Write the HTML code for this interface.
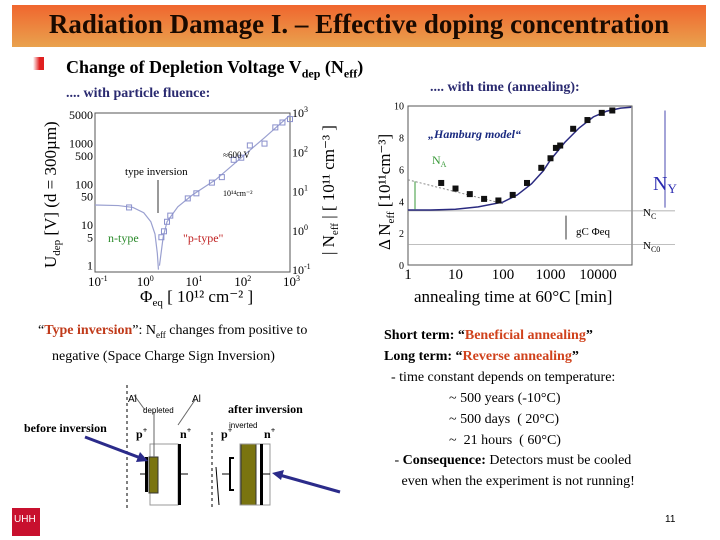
<!DOCTYPE html>
<html><head><meta charset="utf-8"><style>
body{margin:0;width:720px;height:540px;background:#fff;position:relative;overflow:hidden;font-family:"Liberation Serif",serif}
.t{position:absolute;white-space:nowrap}
</style></head><body>
<div style="position:absolute;left:12px;top:5px;width:694px;height:42px;background:linear-gradient(#f0662e,#e9a24e)"></div>
<div class="t" style="left:12px;width:694px;top:9px;text-align:center;font-size:27px;font-weight:bold;color:#1a0a00">Radiation Damage I. – Effective doping concentration</div>
<div style="position:absolute;left:33px;top:57px;width:11px;height:13px;background:linear-gradient(90deg,#fff,#e02020 60%)"></div>
<div class="t" style="left:66px;top:57px;font-size:18px;font-weight:bold">Change of Depletion Voltage V<sub style="font-size:12px">dep</sub> (N<sub style="font-size:12px">eff</sub>)</div>
<div class="t" style="left:66px;top:86px;font-size:14px;font-weight:bold;color:#2a2a70">.... with particle fluence:</div>
<div class="t" style="left:430px;top:80px;font-size:14px;font-weight:bold;color:#2a2a70">.... with time (annealing):</div>

<svg id="sv" width="720" height="540" style="position:absolute;left:0;top:0" font-family="Liberation Serif, serif">
<g id="left"></g>
<g id="right"></g>
<g stroke="#000">
<line x1="127" y1="385" x2="127" y2="508" stroke-dasharray="3,3"/>
<line x1="212" y1="432" x2="212" y2="508" stroke-dasharray="3,3"/>
<rect x="150" y="444" width="28" height="61" fill="none" stroke="#999"/>
<rect x="149" y="457" width="9" height="36" fill="#7a7410" stroke="#333"/>
<rect x="145" y="457" width="3" height="35" fill="#000" stroke="none"/>
<rect x="178" y="444" width="3" height="61" fill="#000" stroke="none"/>
<line x1="140" y1="474" x2="146" y2="474"/><line x1="181" y1="474" x2="188" y2="474"/>
<line x1="145" y1="410" x2="134" y2="395" stroke="#666"/><line x1="178" y1="425" x2="195" y2="400" stroke="#666"/><line x1="154" y1="412" x2="154" y2="457" stroke="#666"/>
<rect x="241" y="444" width="15" height="61" fill="#7a7410" stroke="#333"/>
<rect x="240" y="444" width="30" height="61" fill="none" stroke="#999"/>
<rect x="260" y="444" width="3" height="61" fill="#000" stroke="none"/>
<path d="M234 458 H230 V490 H234" fill="none" stroke-width="2"/>
<line x1="222" y1="474" x2="230" y2="474"/><line x1="263" y1="474" x2="270" y2="474"/>
<line x1="216" y1="467" x2="219" y2="505"/>
<line x1="85" y1="437" x2="146" y2="460" stroke="#2b2b8a" stroke-width="3"/>
<polygon points="148,461 136,462 140,452" fill="#2b2b8a" stroke="none"/>
<line x1="340" y1="492" x2="276" y2="474" stroke="#2b2b8a" stroke-width="3"/>
<polygon points="272,473 284,470 281,480" fill="#2b2b8a" stroke="none"/>
</g>
<g font-size="12">
<text x="24" y="432" font-weight="bold">before inversion</text>
<text x="228" y="413" font-weight="bold">after inversion</text>
<text x="128" y="402" font-family="Liberation Sans, sans-serif" font-size="10">Al</text>
<text x="192" y="402" font-family="Liberation Sans, sans-serif" font-size="10">Al</text>
<text x="143" y="413" font-family="Liberation Sans, sans-serif" font-size="8">depleted</text>
<text x="229" y="428" font-family="Liberation Sans, sans-serif" font-size="8">inverted</text>
<text x="136" y="438" font-weight="bold">p<tspan font-size="8" dy="-5">+</tspan></text>
<text x="180" y="438" font-weight="bold">n<tspan font-size="8" dy="-5">+</tspan></text>
<text x="221" y="438" font-weight="bold">p<tspan font-size="8" dy="-5">+</tspan></text>
<text x="264" y="438" font-weight="bold">n<tspan font-size="8" dy="-5">+</tspan></text>
</g>
<g><rect x="12" y="508" width="28" height="28" fill="#c8102e"/><text x="14" y="522" fill="#fff" font-family="Liberation Sans, sans-serif" font-size="10">UHH</text></g>
</svg>

<div class="t" style="left:38px;top:320px;font-size:14px;line-height:21px">“<b style="color:#c03a1a">Type inversion</b>”: N<sub style="font-size:9px">eff</sub> changes from positive to<br>&nbsp;&nbsp;&nbsp;&nbsp;negative (Space Charge Sign Inversion)</div>
<div class="t" style="left:384px;top:326px;font-size:14px;line-height:20.9px">
<b>Short term: “<span style="color:#d0421c">Beneficial annealing</span>”</b><br>
<b>Long term: “<span style="color:#d0421c">Reverse annealing</span>”</b><br>
&nbsp;&nbsp;- time constant depends on temperature:<br>
<span style="padding-left:65px">~ 500 years (-10°C)</span><br>
<span style="padding-left:65px">~ 500 days&nbsp; ( 20°C)</span><br>
<span style="padding-left:65px">~&nbsp; 21 hours&nbsp; ( 60°C)</span><br>
&nbsp;&nbsp;&nbsp;- <b>Consequence:</b> Detectors must be cooled<br>
&nbsp;&nbsp;&nbsp;&nbsp;&nbsp;even when the experiment is not running!</div>
<div class="t" style="left:665px;top:514px;font-size:10px;font-family:'Liberation Sans',sans-serif">11</div>

<script>
// Left chart data
const nPhi=[0.1,0.3,0.6,1,1.4,1.7,1.9,2.0];
const nV=[31,30,27,20,12,6,2,0.8];
const pPhi=[2.1,2.5,3,5,10,30,100,300,1000];
const pV=[1,5,12,28,55,130,450,1400,5000];
const markPhi=[0.5,2.3,2.6,3,3.5,8,12,25,40,70,100,150,300,500,700,1000];
const markV=[27,5,7,12,17,45,60,110,150,400,450,900,1000,2500,3300,4000];
const vTicks=[1,5,10,50,100,500,1000,5000];
const xTicks=[-1,0,1,2,3];
const nTicks=[-1,0,1,2,3];
// Right chart data
const aT=[5,10,20,40,80,160,320,640,1000,1300,1600,3000,6000,12000,20000];
const aV=[5.15,4.8,4.45,4.15,4.05,4.4,5.15,6.1,6.7,7.35,7.5,8.55,9.1,9.55,9.7];
const fitT=[1,3,10,30,100,200,400,700,1000,2000,4000,8000,15000,30000,50000];
const fitV=[3.45,3.45,3.5,3.65,3.95,4.4,5.1,5.9,6.6,7.7,8.6,9.3,9.65,9.85,9.9];
const aXTicks=[1,10,100,1000,10000];
const aYTicks=[0,2,4,6,8,10];
const NS='http://www.w3.org/2000/svg';
function mk(p,t,a,txt){const e=document.createElementNS(NS,t);for(const k in a)e.setAttribute(k,a[k]);if(txt!=null)e.textContent=txt;p.appendChild(e);return e;}
const L=document.getElementById('left'),R=document.getElementById('right');
const lx=p=>95+(Math.log10(p)+1)*48.75, ly=v=>265.7-Math.log10(v)*40.7, ny=e=>270-(e+1)*39.25;
let e;
e=mk(L,'rect',{x:95,y:113,width:195,height:159,fill:'none',stroke:'#555'});


vTicks.forEach(v=>{e=mk(L,'text',{x:93,y:ly(v)+4,'text-anchor':'end','font-size':12},String(v));

});
xTicks.forEach(k=>{e=mk(L,'text',{x:lx(Math.pow(10,k))-7,y:286,'font-size':13},'10');mk(e,'tspan',{dy:-5,'font-size':8},String(k));

});
nTicks.forEach(k=>{e=mk(L,'text',{x:292,y:ny(k)+4,'font-size':12},'10');mk(e,'tspan',{dy:-5,'font-size':8},String(k));

});
e=mk(L,'polyline',{points:nPhi.map((p,i)=>lx(p)+','+ly(nV[i])).join(' '),fill:'none',stroke:'#9aa0d0','stroke-width':1.2});


e=mk(L,'polyline',{points:pPhi.map((p,i)=>lx(p)+','+ly(pV[i])).join(' '),fill:'none',stroke:'#9aa0d0','stroke-width':1.2});


markPhi.forEach((p,i)=>{e=mk(L,'rect',{x:lx(p)-2.5,y:ly(markV[i])-2.5,width:5,height:5,fill:'none',stroke:'#8a90cc'});

});
mk(L,'text',{x:125,y:175,'font-size':11},'type inversion');
mk(L,'line',{x1:158,y1:180,x2:158,y2:213,stroke:'#333'});
mk(L,'text',{x:108,y:242,'font-size':12,fill:'#2a8a2a'},'n-type');
mk(L,'text',{x:183,y:242,'font-size':12,fill:'#c02020'},'"p-type"');
mk(L,'text',{x:223,y:158,'font-size':9},'≈600 V');
mk(L,'text',{x:223,y:196,'font-size':8},'10¹⁴cm⁻²');
e=mk(L,'text',{x:0,y:0,'font-size':17,transform:'translate(56,268) rotate(-90)'},'U');mk(e,'tspan',{'font-size':11,dy:4},'dep');mk(e,'tspan',{dy:-4},' [V]  (d = 300µm)');


e=mk(L,'text',{x:0,y:0,'font-size':17,transform:'translate(334,255) rotate(-90)'},'| N');mk(e,'tspan',{'font-size':11,dy:4},'eff');mk(e,'tspan',{dy:-4},' | [ 10¹¹ cm⁻³ ]');


e=mk(L,'text',{x:140,y:302,'font-size':17},'Φ');mk(e,'tspan',{'font-size':11,dy:4},'eq');mk(e,'tspan',{dy:-4},'  [ 10¹² cm⁻² ]');



const rx=t=>408+Math.log10(t)*47.5, ry=v=>265-v*15.93;
e=mk(R,'rect',{x:408,y:106,width:224,height:159,fill:'none',stroke:'#555'});


aYTicks.forEach(v=>{e=mk(R,'text',{x:404,y:ry(v)+4,'text-anchor':'end','font-size':10},String(v));

});
aXTicks.forEach(t=>{e=mk(R,'text',{x:rx(t),y:279,'text-anchor':'middle','font-size':15},String(t));

});
mk(R,'line',{x1:408,y1:ry(3.4),x2:675,y2:ry(3.4),stroke:'#999','stroke-width':0.7});
mk(R,'line',{x1:408,y1:ry(1.3),x2:675,y2:ry(1.3),stroke:'#999','stroke-width':0.7});
mk(R,'line',{x1:408,y1:ry(5.35),x2:rx(100),y2:ry(3.85),stroke:'#888','stroke-dasharray':'2,2'});
e=mk(R,'polyline',{points:fitT.map((t,i)=>rx(t)+','+ry(fitV[i])).join(' '),fill:'none',stroke:'#2a2a80','stroke-width':1.5});


aT.forEach((t,i)=>{e=mk(R,'rect',{x:rx(t)-3,y:ry(aV[i])-3,width:6,height:6,fill:'#111'});

});
mk(R,'text',{x:428,y:138,'font-size':12,'font-weight':'bold','font-style':'italic',fill:'#1a2a80'},'„Hamburg model“');
e=mk(R,'text',{x:432,y:164,'font-size':12,fill:'#3a9a3a'},'N');mk(e,'tspan',{'font-size':8,dy:3},'A');
mk(R,'line',{x1:415,y1:ry(5.25),x2:415,y2:ry(3.5),stroke:'#3a9a3a'});
mk(R,'line',{x1:566,y1:ry(3.1),x2:566,y2:ry(1.6),stroke:'#333'});
mk(R,'text',{x:576,y:235,'font-size':11},'gC Φeq');
mk(R,'line',{x1:665,y1:ry(9.7),x2:665,y2:ry(3.6),stroke:'#4a4ab0'});
e=mk(R,'text',{x:653,y:190,'font-size':20,fill:'#2a2ab0'},'N');mk(e,'tspan',{'font-size':13,dy:3},'Y');
e=mk(R,'text',{x:643,y:216,'font-size':11},'N');mk(e,'tspan',{'font-size':8,dy:3},'C');
e=mk(R,'text',{x:643,y:249,'font-size':11},'N');mk(e,'tspan',{'font-size':8,dy:3},'C0');
e=mk(R,'text',{x:0,y:0,'font-size':17,transform:'translate(390,250) rotate(-90)'},'Δ N');mk(e,'tspan',{'font-size':11,dy:4},'eff');mk(e,'tspan',{dy:-4},' [10¹¹cm⁻³]');


e=mk(R,'text',{x:414,y:302,'font-size':17},'annealing time at 60°C [min]');


</script>
</body></html>
